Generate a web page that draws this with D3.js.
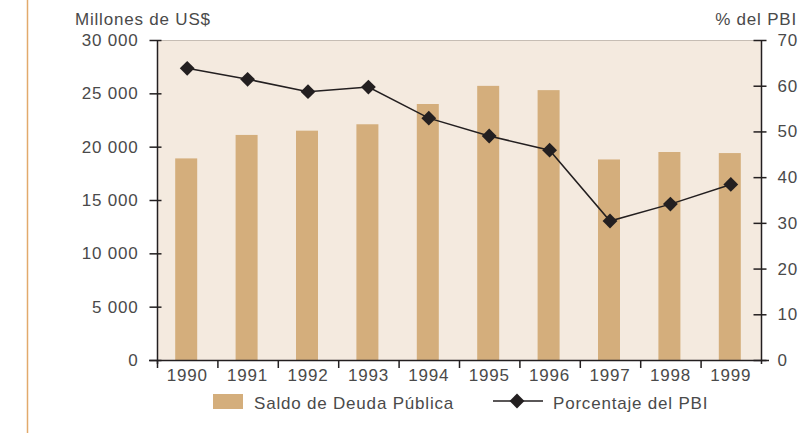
<!DOCTYPE html>
<html>
<head>
<meta charset="utf-8">
<script src="https://cdnjs.cloudflare.com/ajax/libs/d3/7.8.5/d3.min.js"></script>
<style>
  body { margin: 0; background: #fff; }
  svg text { font-family: "Liberation Sans", Arial, sans-serif; fill: #4a4a4a; letter-spacing: 0.8px; }
</style>
</head>
<body>
<svg id="chart"></svg>
<script>
// data
var years = ["1990","1991","1992","1993","1994","1995","1996","1997","1998","1999"];
var deuda = [18900, 21100, 21500, 22100, 24000, 25700, 25300, 18800, 19500, 19400];
var pctPBI = [63.8, 61.4, 58.7, 59.7, 52.9, 49.0, 45.9, 30.4, 34.1, 38.4];
var leftTicks = [0, 5000, 10000, 15000, 20000, 25000, 30000];
var rightTicks = [0, 10, 20, 30, 40, 50, 60, 70];

var width = 801;
var height = 435;
var margin = {top: 40, right: 40, bottom: 75, left: 157};
var x0 = margin.left, x1 = width - margin.right, y0 = height - margin.bottom, y1 = margin.top;
var fontStack = "'Liberation Sans', Arial, sans-serif";

var svg = d3.select("#chart")
    .attr("width", width)
    .attr("height", height);

// decorative left rule
svg.append("line")
    .attr("x1", 27.5).attr("x2", 27.5)
    .attr("y1", 0).attr("y2", 433)
    .attr("stroke", "#e2aa6c")
    .attr("stroke-width", 1.5);

// scales
var xScale = d3.scaleBand()
    .domain(years)
    .range([x0, x1]);
var yLeft = d3.scaleLinear()
    .domain([0, 30000])
    .range([y0, y1]);
var yRight = d3.scaleLinear()
    .domain([0, 70])
    .range([y0, y1]);

// plot background
svg.append("rect")
    .attr("x", x0).attr("y", y1)
    .attr("width", x1 - x0).attr("height", y0 - y1)
    .attr("fill", "#f4eadf");
svg.append("line")
    .attr("x1", x0).attr("x2", x1)
    .attr("y1", y1 + 0.5).attr("y2", y1 + 0.5)
    .attr("stroke", "#c6bdb4");

// bars
var barW = 22;
svg.selectAll("rect.bar")
    .data(deuda)
    .enter()
    .append("rect")
    .attr("class", "bar")
    .attr("x", function(d, i) { return xScale(years[i]) + xScale.bandwidth() / 2 - barW / 2 - 1; })
    .attr("y", function(d) { return yLeft(d); })
    .attr("width", barW)
    .attr("height", function(d) { return y0 - yLeft(d); })
    .attr("fill", "#d4ae7c");

// line
var line = d3.line()
    .x(function(d, i) { return xScale(years[i]) + xScale.bandwidth() / 2; })
    .y(function(d) { return yRight(d); });
svg.append("path")
    .datum(pctPBI)
    .attr("d", line)
    .attr("fill", "none")
    .attr("stroke", "#231f20")
    .attr("stroke-width", 1.5);

var diamond = d3.symbol().type(d3.symbolSquare).size(110);
svg.selectAll("path.marker")
    .data(pctPBI)
    .enter()
    .append("path")
    .attr("class", "marker")
    .attr("d", diamond)
    .attr("transform", function(d, i) {
        return "translate(" + (xScale(years[i]) + xScale.bandwidth() / 2) + "," + yRight(d) + ") rotate(45)";
    })
    .attr("fill", "#231f20");

// axes
var fmt = function(d) { return d3.format(",")(d).replace(",", " "); };

var leftAxis = svg.append("g")
    .attr("transform", "translate(" + (x0 + 0.5) + ",0)")
    .call(d3.axisLeft(yLeft).tickValues(leftTicks).tickFormat(fmt).tickSize(8).tickPadding(10));
leftAxis.selectAll(".tick line").attr("x2", -8).attr("x1", 4);

var rightAxis = svg.append("g")
    .attr("transform", "translate(" + (x1 + 0.5) + ",0)")
    .call(d3.axisRight(yRight).tickValues(rightTicks).tickSize(8).tickPadding(8));
rightAxis.selectAll(".tick line").attr("x1", -8).attr("x2", 5);

var bottomAxis = svg.append("g")
    .attr("transform", "translate(0," + (y0 + 0.5) + ")")
    .call(d3.axisBottom(xScale).tickSize(0).tickPadding(8));

// tick marks at band boundaries
svg.selectAll("line.xtick")
    .data(years)
    .enter()
    .append("line")
    .attr("class", "xtick")
    .attr("x1", function(d) { return xScale(d) + 0.5; })
    .attr("x2", function(d) { return xScale(d) + 0.5; })
    .attr("y1", y0)
    .attr("y2", y0 + 8)
    .attr("stroke", "#231f20")
    .attr("stroke-width", 1.5);

[leftAxis, rightAxis, bottomAxis].forEach(function(a) {
    a.select(".domain").attr("stroke", "#231f20").attr("stroke-width", 1.5);
    a.selectAll(".tick line").attr("stroke", "#231f20").attr("stroke-width", 1.5);
    a.selectAll("text")
        .style("font-family", fontStack)
        .style("font-size", "17px")
        .attr("fill", "#4a4a4a");
});
leftAxis.selectAll("text").attr("dx", "-1");
leftAxis.select(".domain").attr("d", "M0," + (y0 + 4) + "V" + y1);
rightAxis.select(".domain").attr("d", "M0," + (y0 + 4) + "V" + y1);
bottomAxis.select(".domain").attr("d", "M" + (x0 - 8) + ",0H" + (x1 + 8));

// axis titles
svg.append("text")
    .attr("x", 75).attr("y", 25)
    .style("font-size", "17px")
    .text("Millones de US$");
svg.append("text")
    .attr("x", 797).attr("y", 25)
    .attr("text-anchor", "end")
    .style("font-size", "17px")
    .text("% del PBI");

// legend
svg.append("rect")
    .attr("x", 213).attr("y", 394)
    .attr("width", 30).attr("height", 15)
    .attr("fill", "#d4ae7c");
svg.append("text")
    .attr("x", 254).attr("y", 409)
    .style("font-size", "17px")
    .text("Saldo de Deuda Pública");
svg.append("line")
    .attr("x1", 493).attr("x2", 543)
    .attr("y1", 401).attr("y2", 401)
    .attr("stroke", "#231f20")
    .attr("stroke-width", 1.5);
svg.append("path")
    .attr("d", diamond)
    .attr("transform", "translate(517,401) rotate(45)")
    .attr("fill", "#231f20");
svg.append("text")
    .attr("x", 553).attr("y", 409)
    .style("font-size", "17px")
    .text("Porcentaje del PBI");
</script>
</body>
</html>
